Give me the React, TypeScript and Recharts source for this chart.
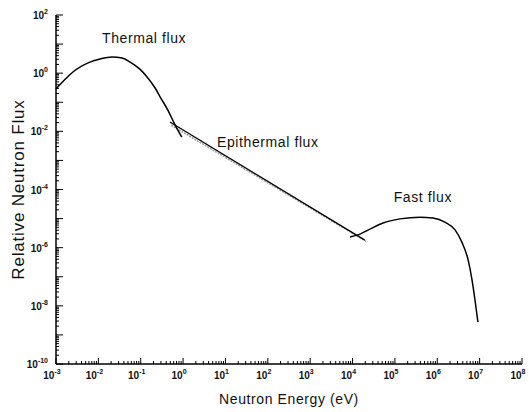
import { LineChart, Line, XAxis, YAxis, ReferenceDot } from 'recharts';

const FONT = '"Liberation Sans", Arial, Helvetica, sans-serif';

// all values are log10: x = log10(E / eV), y = log10(relative flux)
const thermalX = [-3.0, -2.79, -2.6, -2.2, -1.96, -1.68, -1.44, -1.25, -1.02, -0.85, -0.66, -0.54, -0.36, -0.19, -0.03];
const thermalY = [-0.54, -0.22, 0.04, 0.38, 0.49, 0.56, 0.52, 0.38, 0.14, -0.13, -0.51, -0.82, -1.27, -1.78, -2.2];

const epiX = [-0.31, 4.29];
const epiY = [-1.68, -5.74];

// faint fitted 1/E guide under the epithermal line
const guideX = [-0.28, 4.35];
const guideY = [-1.79, -5.81];

const fastX = [3.94, 4.11, 4.41, 4.72, 5.12, 5.59, 5.9, 6.18, 6.42, 6.58, 6.73, 6.82, 6.89, 6.96];
const fastY = [-5.63, -5.57, -5.36, -5.15, -5.01, -4.95, -4.98, -5.12, -5.39, -5.81, -6.43, -7.11, -7.8, -8.56];

const xDecades = [-3, -2, -1, 0, 1, 2, 3, 4, 5, 6, 7, 8];
const yDecades = [-10, -9, -8, -7, -6, -5, -4, -3, -2, -1, 0, 1, 2];
const yLabelled = [-10, -8, -6, -4, -2, 0, 2];

const zip = (xs: number[], ys: number[]) => xs.map((x, i) => ({ x, y: ys[i] }));

const withMinors = (decades: number[]) => {
  const out: number[] = [];
  decades.forEach((d, i) => {
    out.push(d);
    if (i < decades.length - 1) {
      for (let k = 2; k <= 9; k++) out.push(d + Math.log10(k));
    }
  });
  return out;
};

const XTick = ({ x, y, payload }: any) => {
  const v = payload.value;
  const major = Number.isInteger(v);
  return (
    <g>
      <path d={`M${x},${y}V${y - (major ? 6 : 3)}`} stroke="#000" strokeWidth={1} fill="none" />
      {major && (
        <text x={x - 4} y={y + 15} textAnchor="middle" fontSize={10} fontWeight="bold" fontFamily={FONT} fill="#111">
          10<tspan dy={-5} fontSize={7}>{v}</tspan>
        </text>
      )}
    </g>
  );
};

const YTick = ({ x, y, payload }: any) => {
  const v = payload.value;
  const major = Number.isInteger(v);
  return (
    <g>
      <path d={`M${x},${y}H${x + (major ? 7 : 3)}`} stroke="#000" strokeWidth={1} fill="none" />
      {major && yLabelled.includes(v) && (
        <text x={x - 8} y={y + 4} textAnchor="end" fontSize={10} fontWeight="bold" fontFamily={FONT} fill="#111">
          10<tspan dy={-5} fontSize={7}>{v}</tspan>
        </text>
      )}
    </g>
  );
};

const YTitle = ({ viewBox }: any) => {
  const cx = viewBox.x + 18;
  const cy = viewBox.y + viewBox.height / 2;
  return (
    <text x={cx} y={cy} transform={`rotate(-90 ${cx} ${cy})`} textAnchor="middle" dominantBaseline="central"
      fontSize={17} letterSpacing={0.8} fontFamily={FONT} fill="#111">
      Relative Neutron Flux
    </text>
  );
};

const note = (value: string) => ({
  value, position: 'center' as const, fontSize: 14, letterSpacing: 0.6, fill: '#111', fontFamily: FONT,
});

const frame = { stroke: '#000', strokeWidth: 1.5 };

export default function App() {
  return (
    <div style={{ position: 'absolute', left: 0, top: 0, width: 529, height: 412, background: '#fff' }}>
      <LineChart width={529} height={412} margin={{ top: 15, right: 7, left: 0, bottom: 0 }}>
        <XAxis
          type="number"
          dataKey="x"
          domain={[-3, 8]}
          ticks={withMinors(xDecades)}
          interval={0}
          tickSize={0}
          tickMargin={0}
          tickLine={false}
          tick={<XTick />}
          height={48}
          axisLine={frame}
          label={{ value: 'Neutron Energy (eV)', position: 'insideBottom', offset: 8, fontSize: 14, letterSpacing: 0.6, fill: '#111', fontFamily: FONT }}
        />
        <XAxis xAxisId="top" orientation="top" type="number" dataKey="x" domain={[-3, 8]} height={0}
          tick={false} tickLine={false} axisLine={frame} />
        <YAxis
          type="number"
          dataKey="y"
          domain={[-10, 2]}
          ticks={withMinors(yDecades)}
          interval={0}
          tickSize={0}
          tickMargin={0}
          tickLine={false}
          tick={<YTick />}
          width={56}
          axisLine={frame}
          label={{ content: <YTitle /> }}
        />
        <YAxis yAxisId="right" orientation="right" type="number" dataKey="y" domain={[-10, 2]} width={0}
          tick={false} tickLine={false} axisLine={frame} />
        <Line data={zip(guideX, guideY)} dataKey="y" type="linear" stroke="#9a9a9a" strokeWidth={1.5}
          strokeDasharray="2 1" dot={false} activeDot={false} isAnimationActive={false} />
        <Line data={zip(thermalX, thermalY)} dataKey="y" type="monotone" stroke="#000" strokeWidth={1.5}
          dot={false} activeDot={false} isAnimationActive={false} />
        <Line data={zip(epiX, epiY)} dataKey="y" type="linear" stroke="#000" strokeWidth={1.3}
          dot={false} activeDot={false} isAnimationActive={false} />
        <Line data={zip(fastX, fastY)} dataKey="y" type="monotone" stroke="#000" strokeWidth={1.5}
          dot={false} activeDot={false} isAnimationActive={false} />
        <ReferenceDot x={-0.92} y={1.21} r={0} stroke="none" label={note('Thermal flux')} />
        <ReferenceDot x={2.0} y={-2.37} r={0} stroke="none" label={note('Epithermal flux')} />
        <ReferenceDot x={5.66} y={-4.27} r={0} stroke="none" label={note('Fast flux')} />
      </LineChart>
    </div>
  );
}
